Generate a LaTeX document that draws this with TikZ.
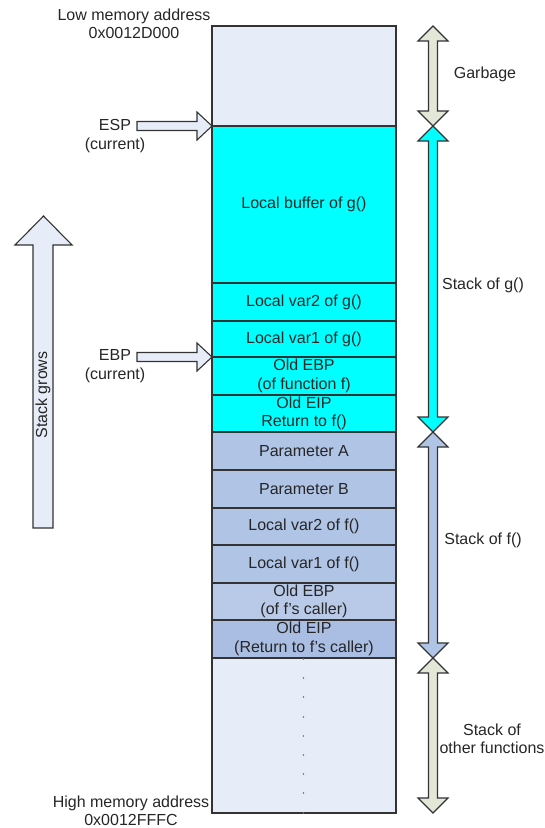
\documentclass[tikz,border=0pt]{standalone}
\usepackage{fontspec}
\setmainfont{Liberation Sans}
\definecolor{edge}{HTML}{333333}
\definecolor{txt}{HTML}{262626}
\definecolor{pale}{HTML}{E7EDF8}
\definecolor{cyanc}{HTML}{00FFFF}
\definecolor{fblue}{HTML}{B0C4E5}
\definecolor{fbluel}{HTML}{B9CAE8}
\definecolor{fblued}{HTML}{A9BEE2}
\definecolor{olive}{HTML}{E3E7D8}
\newcommand{\vdblarrow}[3]{%
  \draw[arr, fill=#3] (433,#1)
    -- (448,#1+15) -- (437.5,#1+15) -- (437.5,#2-15) -- (448,#2-15)
    -- (433,#2) -- (418,#2-15) -- (428.5,#2-15) -- (428.5,#1+15)
    -- (418,#1+15) -- cycle;}
\newcommand{\ptrarrow}[1]{%
  \draw[arr, fill=pale] (212,#1) -- (197,#1-14) -- (197,#1-4.5) -- (137,#1-4.5)
    -- (137,#1+4.5) -- (197,#1+4.5) -- (197,#1+14) -- cycle;}
\begin{document}
\begin{tikzpicture}[x=1pt,y=-1pt,
  font=\fontsize{16}{18.5}\selectfont,
  cell/.style={draw=edge, line width=1.3pt, minimum width=184pt, inner sep=0pt,
    align=center, text=txt},
  arr/.style={draw=edge, line width=1.1pt, line join=miter},
  lbl/.style={align=center, text=txt, inner sep=0pt}]
\useasboundingbox (0,0) rectangle (545,828);
% memory cells
\node[cell, fill=pale, minimum height=100pt] (garb) at (304,76) {};
\node[cell, fill=cyanc, minimum height=157pt] (buf) at (304,204.5) {Local buffer of g()};
\node[cell, fill=cyanc, minimum height=38pt] (gv2) at (304,302) {Local var2 of g()};
\node[cell, fill=cyanc, minimum height=36pt] (gv1) at (304,339) {Local var1 of g()};
\node[cell, fill=cyanc, minimum height=38pt] (gebp) at (304,376) {Old EBP\\(of function f)};
\node[cell, fill=cyanc, minimum height=37pt] (geip) at (304,413.5) {Old EIP\\Return to f()};
\node[cell, fill=fblue, minimum height=38pt] (pa) at (304,451) {Parameter A};
\node[cell, fill=fblue, minimum height=38pt] (pb) at (304,489) {Parameter B};
\node[cell, fill=fblue, minimum height=37pt] (fv2) at (304,526.5) {Local var2 of f()};
\node[cell, fill=fblue, minimum height=38pt] (fv1) at (304,564) {Local var1 of f()};
\node[cell, fill=fbluel, minimum height=37pt] (febp) at (304,601.5) {Old EBP\\(of f's caller)};
\node[cell, fill=fblued, minimum height=38pt] (feip) at (304,639) {Old EIP\\(Return to f's caller)};
\node[cell, fill=pale, minimum height=155pt] (rest) at (304,735.5) {};
\foreach \yy in {659,678,697,717,736,755,774,793,813}
  \fill[edge!70] (303.5,\yy) circle (0.8pt);
% address labels
\node[lbl] (low) at (134,24) {Low memory address\\0x0012D000};
\node[lbl] (high) at (131,811) {High memory address\\0x0012FFFC};
% pointer arrows
\ptrarrow{126}
\ptrarrow{357}
\node[lbl] (esp) at (115,136) {ESP\\(current)};
\node[lbl] (ebp) at (115,366) {EBP\\(current)};
% stack grows
\draw[arr, fill=pale] (43.5,216) -- (72,245) -- (53,245) -- (53,528) -- (33,528)
  -- (33,245) -- (15,245) -- cycle;
\node[lbl, rotate=90] (grows) at (43,395) {Stack grows};
% right brackets
\vdblarrow{26}{126}{olive}
\vdblarrow{126}{432}{cyanc}
\vdblarrow{432}{658}{fblue}
\vdblarrow{658}{813}{olive}
\node[lbl] (lgarb) at (485,74) {Garbage};
\node[lbl] (lg) at (483,285) {Stack of g()};
\node[lbl] (lf) at (483,540) {Stack of f()};
\node[lbl] (lo) at (492,739) {Stack of\\other functions};
\end{tikzpicture}
\end{document}
